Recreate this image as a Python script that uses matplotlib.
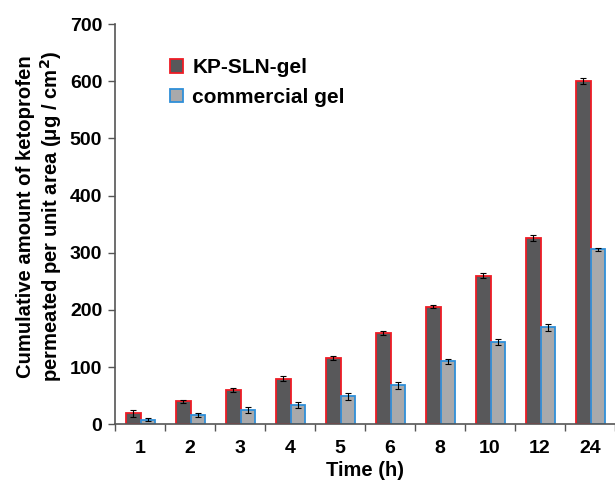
import matplotlib
matplotlib.use("Agg")
import matplotlib.pyplot as plt
import numpy as np
from matplotlib.patches import Patch

plt.rcParams['font.family'] = ['Liberation Sans', 'DejaVu Sans']
plt.rcParams['font.weight'] = 'bold'

times = ['1', '2', '3', '4', '5', '6', '8', '10', '12', '24']
kp_sln = [19, 40, 60, 80, 116, 160, 206, 260, 326, 600]
kp_err = [6, 3, 4, 4, 3, 3, 3, 4, 5, 5]
commercial = [8, 16, 25, 34, 49, 68, 110, 144, 170, 306]
com_err = [3, 3, 6, 5, 6, 6, 5, 6, 6, 3]

fig = plt.figure(figsize=(6.15, 4.83), dpi=100)
ax = fig.add_axes([0.1865, 0.1215, 0.813, 0.8288])

x = np.arange(len(times))
w = 0.29
ax.bar(x - w/2 + 0.02, kp_sln, w, color='#58585a', edgecolor='#ee1c25', linewidth=1.3,
       yerr=kp_err, error_kw=dict(ecolor='black', elinewidth=0.8, capsize=2, capthick=0.8))
ax.bar(x + w/2 + 0.02, commercial, w, color='#a9a9ab', edgecolor='#2f8fd8', linewidth=1.3,
       yerr=com_err, error_kw=dict(ecolor='black', elinewidth=0.8, capsize=2, capthick=0.8))

ax.set_xlim(-0.5, len(times) - 0.5)
ax.set_ylim(0, 700)
ax.set_yticks(np.arange(0, 701, 100))
ax.set_xticks(x)
ax.set_xticklabels(times)
ax.set_xticks(np.arange(-0.5, len(times), 1.0), minor=True)
ax.tick_params(axis='x', which='major', length=0, labelsize=14, pad=11)
ax.tick_params(axis='x', which='minor', length=5, width=1, color='#555555', direction='out')
ax.tick_params(axis='y', length=5, width=1, color='#555555', labelsize=14, direction='out', pad=4)
for lab in ax.get_xticklabels() + ax.get_yticklabels():
    lab.set_fontweight('bold')

for s in ['top', 'right']:
    ax.spines[s].set_visible(False)
for s in ['left', 'bottom']:
    ax.spines[s].set_color('#555555')
    ax.spines[s].set_linewidth(1.2)

ax.set_xlabel('Time (h)', fontsize=14.5, fontweight='bold', labelpad=3)
ax.set_ylabel('Cumulative amount of ketoprofen\npermeated per unit area (μg / cm$^\\mathbf{2}$)',
              fontsize=14.6, fontweight='bold', linespacing=1.15)
ax.yaxis.set_label_coords(-0.101, 0.52)

handles = [Patch(facecolor='#58585a', edgecolor='#ee1c25', linewidth=1.3, label='KP-SLN-gel'),
           Patch(facecolor='#a9a9ab', edgecolor='#2f8fd8', linewidth=1.3, label='commercial gel')]
ax.legend(handles=handles, loc='upper left', bbox_to_anchor=(0.074, 0.961), frameon=False,
          prop={'weight': 'bold', 'size': 15}, handlelength=0.6, handleheight=0.6,
          handletextpad=0.45, labelspacing=0.5, borderpad=0.4)

fig.savefig('out.png', dpi=100)
